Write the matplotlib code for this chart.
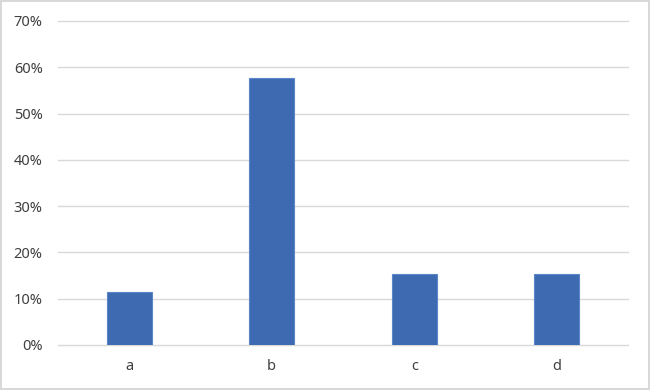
import matplotlib.pyplot as plt
from matplotlib.ticker import PercentFormatter, MultipleLocator

categories = ["a", "b", "c", "d"]
shares = [0.115, 0.577, 0.154, 0.154]

plt.rcParams["font.family"] = ["Noto Sans", "DejaVu Sans"]

fig = plt.figure(figsize=(6.5, 3.9), dpi=100)
fig.patch.set_edgecolor("#D9D9D9")
fig.patch.set_linewidth(1.5)
ax = fig.add_axes([58 / 650, 45 / 390, 570 / 650, 324 / 390])

x_pos = range(len(categories))
ax.bar(x_pos, shares, width=0.313, color="#3D6AB0", edgecolor="#5B86C8",
       linewidth=0.8, zorder=3)

ax.set_xlim(-0.5, len(categories) - 0.5)
ax.set_ylim(0, 0.70)
ax.yaxis.set_major_locator(MultipleLocator(0.10))
ax.yaxis.set_major_formatter(PercentFormatter(1.0, decimals=0))
ax.set_xticks(list(x_pos), categories)
ax.grid(axis="y", color="#D9D9D9", linewidth=1.0, zorder=0)
for gl in ax.get_ygridlines():
    gl.set_clip_on(False)
ax.tick_params(length=0, labelsize=10.5, labelcolor="#404040")
ax.tick_params(axis="y", pad=11)
ax.tick_params(axis="x", pad=10)
for s in ax.spines.values():
    s.set_visible(False)

fig.savefig("out.png", dpi=100, edgecolor=fig.get_edgecolor())
